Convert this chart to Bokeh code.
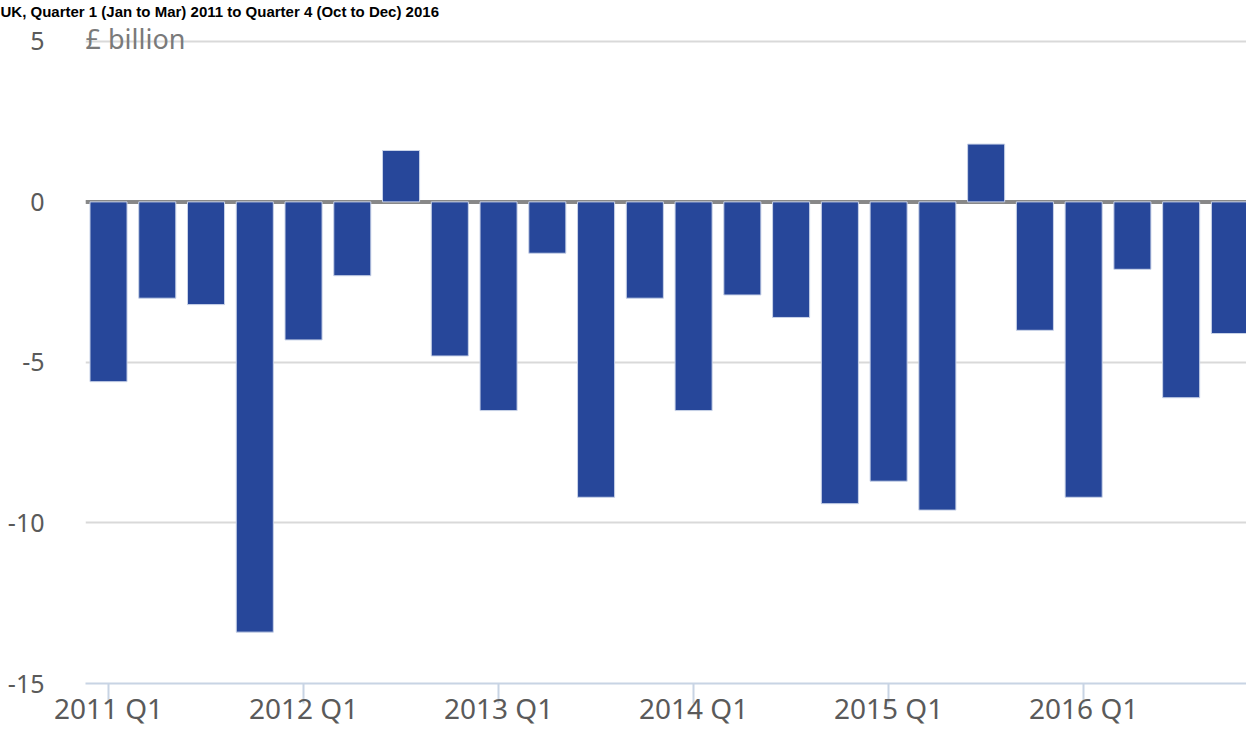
from bokeh.plotting import figure
from bokeh.models import Range1d, FixedTicker, Span, Label, Title, ColumnDataSource
from bokeh.embed import file_html
from bokeh.resources import INLINE

title_text = "UK, Quarter 1 (Jan to Mar) 2011 to Quarter 4 (Oct to Dec) 2016"
unit_label = "£ billion"
quarters = [f"{y} Q{q}" for y in range(2011, 2017) for q in range(1, 5)]
values = [-5.6, -3.0, -3.2, -13.4,
          -4.3, -2.3, 1.6, -4.8,
          -6.5, -1.6, -9.2, -3.0,
          -6.5, -2.9, -3.6, -9.4,
          -8.7, -9.6, 1.8, -4.0,
          -9.2, -2.1, -6.1, -4.1]
y_ticks = [5, 0, -5, -10, -15]
y_tick_labels = ["5", "0", "-5", "-10", "-15"]

idx = list(range(len(quarters)))
src = ColumnDataSource(dict(x=idx, top=values, q=quarters))
q1_ticks = [i for i, q in zip(idx, quarters) if q.endswith("Q1")]

x_left, x_right = -0.472, 23.34
p = figure(width=1246, height=729, output_backend="svg", toolbar_location=None,
           x_range=Range1d(x_left, x_right), y_range=Range1d(-15, 5.68),
           min_border_left=85, min_border_right=0, min_border_top=0, min_border_bottom=0)
p.outline_line_color = None
p.background_fill_color = "white"
p.border_fill_color = "white"

# title (bold, black, top left of the page)
p.add_layout(Title(text=title_text, align="left", offset=-85, standoff=0,
                   text_font="Liberation Sans", text_font_style="bold",
                   text_font_size="15px", text_color="black"), "above")

# grid
p.xgrid.grid_line_color = None
p.ygrid.grid_line_color = "#d9d9d9"
p.ygrid.grid_line_width = 2

# y axis
p.yaxis.ticker = FixedTicker(ticks=y_ticks)
p.yaxis.major_label_overrides = dict(zip(y_ticks, y_tick_labels))
p.yaxis.axis_line_color = None
p.yaxis.major_tick_line_color = None
p.yaxis.minor_tick_line_color = None
p.yaxis.major_label_standoff = 35
p.yaxis.major_label_text_font = "Noto Sans"
p.yaxis.major_label_text_font_size = "25px"
p.yaxis.major_label_text_color = "#5a5a5a"

# x axis
p.xaxis.ticker = FixedTicker(ticks=q1_ticks)
p.xaxis.major_label_overrides = {i: quarters[i] for i in q1_ticks}
p.xaxis.axis_line_color = "#c8d4e4"
p.xaxis.axis_line_width = 2
p.xaxis.major_tick_line_color = "#c8d4e4"
p.xaxis.major_tick_line_width = 2
p.xaxis.major_tick_out = 20
p.xaxis.major_tick_in = 0
p.xaxis.minor_tick_line_color = None
p.xaxis.major_label_standoff = -15
p.xaxis.major_label_text_font = "Noto Sans"
p.xaxis.major_label_text_font_size = "28px"
p.xaxis.major_label_text_color = "#5a5a5a"

# zero line
p.add_layout(Span(location=0, dimension="width", line_color="#888888", line_width=4, level="underlay"))

p.vbar(x="x", top="top", bottom=0, width=0.76, source=src,
       fill_color="#27479a", line_color="#c9d3e8", line_width=1)

p.add_layout(Label(x=x_left, y=5, y_offset=3, text=unit_label,
                   text_font="Noto Sans", text_font_size="27px", text_color="#7a7a7a",
                   text_baseline="alphabetic", text_align="left"))

open("out.html", "w").write(file_html(p, INLINE))
